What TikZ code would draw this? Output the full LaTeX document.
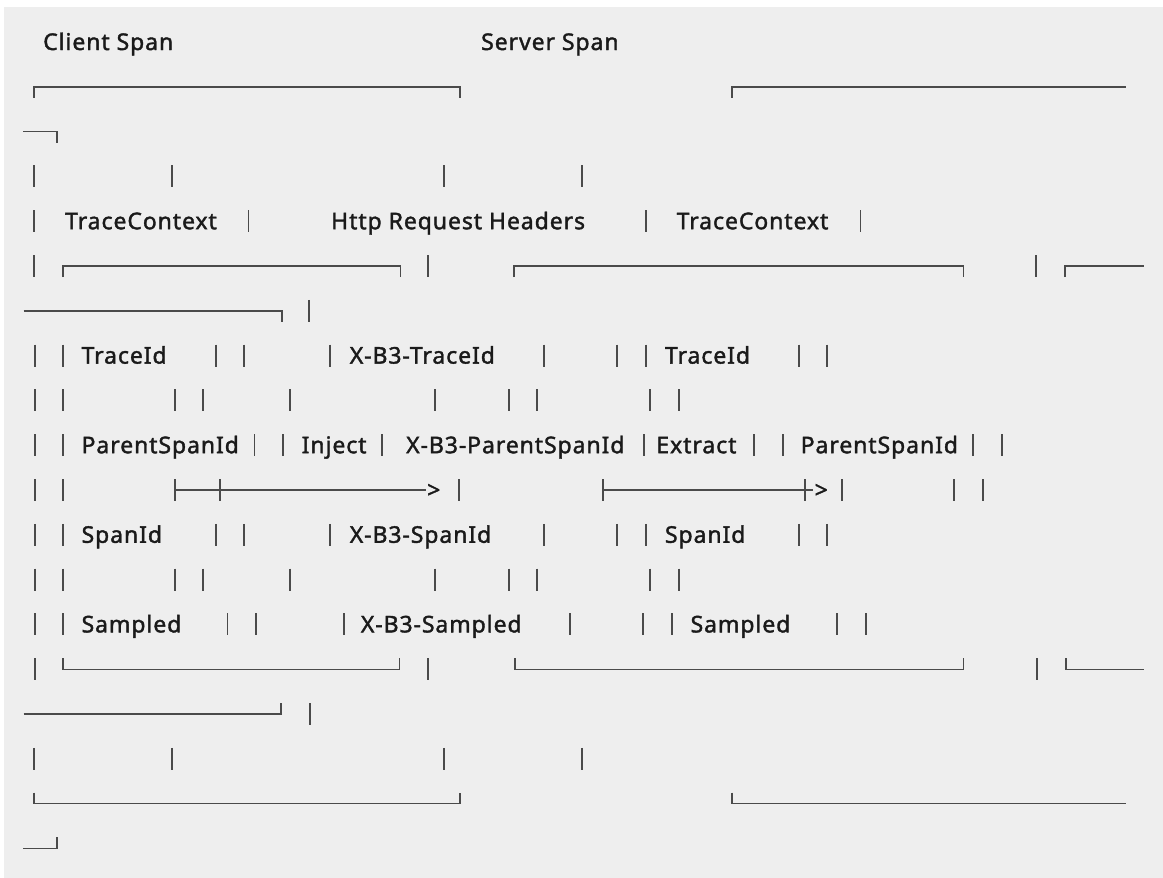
\documentclass[tikz,border=0pt]{standalone}
\usepackage{fontspec}
\setmainfont{Noto Sans}[LetterSpace=4,AutoFakeBold=1.6]
\usetikzlibrary{positioning}
\definecolor{bgc}{HTML}{EEEEEE}
\definecolor{inkc}{HTML}{1A1A1A}
\definecolor{rulec}{HTML}{4A4A4A}
\newcommand{\ry}[1]{42+44.8*#1} % middle of text row #1
\tikzset{
  vb/.style={line width=1.4pt,draw=rulec},               % ascii bar |
  hb/.style={line width=1.4pt,draw=rulec,line join=miter}, % box rule
  txt/.style={anchor=base west,inner sep=0pt,text=inkc,
    font=\fontsize{23}{27}\selectfont\bfseries},
}
% vertical bars of one row
\newcommand{\bars}[2]{\foreach \x in {#2}{\draw[vb] (\x,{\ry{#1}-11}) -- (\x,{\ry{#1}+11});}}
% top rule with both corners, and with the left corner only
\newcommand{\topbox}[3]{\draw[hb] (#2,{\ry{#1}+11}) |- (#3,{\ry{#1}}) -- (#3,{\ry{#1}+11});}
\newcommand{\topopen}[3]{\draw[hb] (#2,{\ry{#1}+11}) |- (#3,{\ry{#1}});}
\newcommand{\botbox}[3]{\draw[hb] (#2,{\ry{#1}-11}) |- (#3,{\ry{#1}}) -- (#3,{\ry{#1}-11});}
\newcommand{\botopen}[3]{\draw[hb] (#2,{\ry{#1}-11}) |- (#3,{\ry{#1}});}

\begin{document}
\begin{tikzpicture}[x=1pt,y=-1pt]
  \useasboundingbox (0,0) rectangle (1163,878);
  \fill[bgc] (4,7) rectangle (1163,878);

  % titles
  \node[txt] (client) at (43,{\ry{0}+8}) {Client Span};
  \node[txt] (server) at (481,{\ry{0}+8}) {Server Span};

  % outer boxes, top
  \topbox{1}{34}{460}
  \topopen{1}{732}{1126}
  \draw[hb] (23,{\ry{2}}) -- (57,{\ry{2}}) -- (57,{\ry{2}+11});
  \bars{3}{34,172,444,582}

  % row of context headers
  \bars{4}{34,248.5,646,860.5}
  \node[txt] (ctxL) at (65,{\ry{4}+8}) {TraceContext};
  \node[txt] (hdr) at (331,{\ry{4}+8}) {Http Request Headers};
  \node[txt] (ctxR) at (676.5,{\ry{4}+8}) {TraceContext};

  % inner boxes, top
  \bars{5}{34,428,1036}
  \topbox{5}{63}{400.6}
  \topbox{5}{514}{963.6}
  \topopen{5}{1065}{1144}
  \draw[hb] (23.5,{\ry{6}}) -- (282,{\ry{6}}) -- (282,{\ry{6}+11});
  \bars{6}{309}

  % fields
  \bars{7}{35,63,216,244,330,544,617,646,799,827}
  \node[txt] (tidL) at (81.4,{\ry{7}+8}) {TraceId};
  \node[txt] (tidH) at (349.6,{\ry{7}+8}) {X-B3-TraceId};
  \node[txt] (tidR) at (664.8,{\ry{7}+8}) {TraceId};
  \bars{8}{35,63,175,203,290,435,509,537,650,679}

  \bars{9}{35,63,254.5,283,382,644,754,783,973,1002}
  \node[txt] (pidL) at (81.4,{\ry{9}+8}) {ParentSpanId};
  \node[txt] (inj) at (301.5,{\ry{9}+8}) {Inject};
  \node[txt] (pidH) at (406,{\ry{9}+8}) {X-B3-ParentSpanId};
  \node[txt] (ext) at (656.2,{\ry{9}+8}) {Extract};
  \node[txt] (pidR) at (800.5,{\ry{9}+8}) {ParentSpanId};

  % inject / extract arrows
  \bars{10}{35,63,459,842,954,983}
  \coordinate (injA) at (175,{\ry{10}});
  \coordinate (injB) at (426,{\ry{10}});
  \coordinate (extA) at (603,{\ry{10}});
  \coordinate (extB) at (813,{\ry{10}});
  \draw[hb] (injA) -- (injB);
  \draw[hb] (extA) -- (extB);
  \bars{10}{175,220,603,805}
  \node[txt] (injtip) at (427,{\ry{10}+8}) {>};
  \node[txt] (exttip) at (814.5,{\ry{10}+8}) {>};

  \bars{11}{35,63,216,244,330,544,617,646,799,827}
  \node[txt] (sidL) at (81.4,{\ry{11}+8}) {SpanId};
  \node[txt] (sidH) at (349.6,{\ry{11}+8}) {X-B3-SpanId};
  \node[txt] (sidR) at (664.8,{\ry{11}+8}) {SpanId};
  \bars{12}{35,63,175,203,290,435,509,537,650,679}

  \bars{13}{35,63,227.5,256,344,570,643,672,837,866}
  \node[txt] (smpL) at (81.4,{\ry{13}+8}) {Sampled};
  \node[txt] (smpH) at (360.7,{\ry{13}+8}) {X-B3-Sampled};
  \node[txt] (smpR) at (690.4,{\ry{13}+8}) {Sampled};

  % inner boxes, bottom
  \bars{14}{35,428,1037}
  \botbox{14}{63}{399.5}
  \botbox{14}{515}{963.7}
  \botopen{14}{1066}{1144}
  \draw[hb] (23.5,{\ry{15}}) -- (281,{\ry{15}}) -- (281,{\ry{15}-11});
  \bars{15}{310}

  % outer boxes, bottom
  \bars{16}{34,172,444,582}
  \botbox{17}{34}{460}
  \botopen{17}{732}{1126}
  \draw[hb] (23,{\ry{18}}) -- (57,{\ry{18}}) -- (57,{\ry{18}-11});
\end{tikzpicture}
\end{document}
